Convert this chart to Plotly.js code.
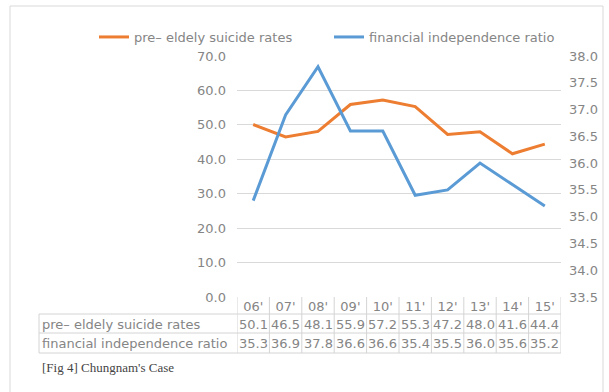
<!DOCTYPE html>
<html>
<head>
<meta charset="utf-8">
<script src="https://cdn.plot.ly/plotly-3.0.1.min.js"></script>
<style>html,body{margin:0;padding:0;background:#fff;}#chart{width:609px;height:392px;}</style>
</head>
<body>
<div id="chart"></div>
<script>
const years = ["06'", "07'", "08'", "09'", "10'", "11'", "12'", "13'", "14'", "15'"];
const suicideName = "pre\u2013 eldely suicide rates";
const suicideRates = [50.1, 46.5, 48.1, 55.9, 57.2, 55.3, 47.2, 48.0, 41.6, 44.4];
const ratioName = "financial independence ratio";
const independenceRatio = [35.3, 36.9, 37.8, 36.6, 36.6, 35.4, 35.5, 36.0, 35.6, 35.2];
const caption = "[Fig 4] Chungnam's Case";

const W = 609, H = 392;
const L = 237, R = 561, T = 56, B = 297;
const pw = R - L, ph = B - T;
const px2x = p => (p - L) / pw;
const py2y = p => (B - p) / ph;

const txtColor = '#858585';
const lineColor = '#d4d4d4';
const font = 'DejaVu Sans, Liberation Sans, sans-serif';
const fs = 13;

const traces = [
  {x: years, y: suicideRates, name: suicideName, type: 'scatter', mode: 'lines',
   line: {color: '#ED7D31', width: 3}, yaxis: 'y', legend: 'legend'},
  {x: years, y: independenceRatio, name: ratioName, type: 'scatter', mode: 'lines',
   line: {color: '#5B9BD5', width: 3}, yaxis: 'y2', legend: 'legend2'}
];

const rowTop1 = 314, rowTop2 = 333, rowBot = 353;
const shapes = [];
shapes.push({type: 'rect', xref: 'paper', yref: 'paper', x0: px2x(10), x1: px2x(603), y0: py2y(6), y1: py2y(400),
  line: {color: '#d9d9d9', width: 1}});
for (let i = 0; i <= years.length; i++) {
  shapes.push({type: 'line', xref: 'x', yref: 'paper', x0: i - 0.5, x1: i - 0.5, y0: py2y(297), y1: py2y(rowBot),
    line: {color: lineColor, width: 1}});
}
shapes.push({type: 'line', xref: 'paper', yref: 'paper', x0: px2x(39), x1: px2x(39), y0: py2y(rowTop1), y1: py2y(rowBot),
  line: {color: lineColor, width: 1}});
[rowTop1, rowTop2, rowBot].forEach(p => {
  shapes.push({type: 'line', xref: 'paper', yref: 'paper', x0: px2x(39), x1: 1, y0: py2y(p), y1: py2y(p),
    line: {color: lineColor, width: 1}});
});

const annotations = [];
const rows = [[suicideName, suicideRates], [ratioName, independenceRatio]];
rows.forEach((r, k) => {
  const yc = py2y(k === 0 ? (rowTop1 + rowTop2) / 2 + 0.5 : (rowTop2 + rowBot) / 2 + 0.5);
  annotations.push({xref: 'paper', yref: 'paper', x: px2x(40), y: yc, xanchor: 'left', yanchor: 'middle',
    text: r[0], showarrow: false, font: {family: font, size: fs, color: txtColor}});
  r[1].forEach((v, i) => {
    annotations.push({xref: 'x', yref: 'paper', x: years[i], y: yc, xanchor: 'center', yanchor: 'middle',
      text: v.toFixed(1), showarrow: false, font: {family: font, size: fs, color: txtColor}});
  });
});
annotations.push({xref: 'paper', yref: 'paper', x: px2x(40), y: py2y(367), xanchor: 'left', yanchor: 'middle',
  text: caption, showarrow: false, font: {family: 'Liberation Serif, Times New Roman, serif', size: 13, color: '#444'}});

const legBase = {orientation: 'h', xref: 'container', yref: 'container', y: 1 - 37 / H,
  xanchor: 'left', yanchor: 'middle', font: {family: font, size: fs, color: txtColor},
  bgcolor: 'rgba(0,0,0,0)', itemwidth: 30};

const layout = {
  width: W, height: H,
  margin: {l: L, r: W - R, t: T, b: H - B, pad: 0},
  paper_bgcolor: '#fff', plot_bgcolor: '#fff',
  font: {family: font, size: fs, color: txtColor},
  showlegend: true,
  legend: Object.assign({}, legBase, {x: 94 / W}),
  legend2: Object.assign({}, legBase, {x: 329 / W}),
  xaxis: {type: 'category', range: [-0.5, years.length - 0.5], showgrid: false, zeroline: false, showline: false,
    ticks: '', tickfont: {family: font, size: fs, color: txtColor}, ticklabelstandoff: 0, fixedrange: true},
  yaxis: {range: [0, 70], dtick: 10, tickformat: '.1f', showgrid: true, gridcolor: '#d9d9d9', gridwidth: 1,
    zeroline: false, showline: false, ticks: '', ticklabelstandoff: 10,
    tickfont: {family: font, size: fs, color: txtColor}},
  yaxis2: {range: [33.5, 38], dtick: 0.5, tickformat: '.1f', overlaying: 'y', side: 'right', showgrid: false,
    zeroline: false, showline: false, ticks: '', ticklabelstandoff: 7,
    tickfont: {family: font, size: fs, color: txtColor}},
  shapes: shapes,
  annotations: annotations
};

Plotly.newPlot('chart', traces, layout, {displayModeBar: false, staticPlot: true});
</script>
</body>
</html>
